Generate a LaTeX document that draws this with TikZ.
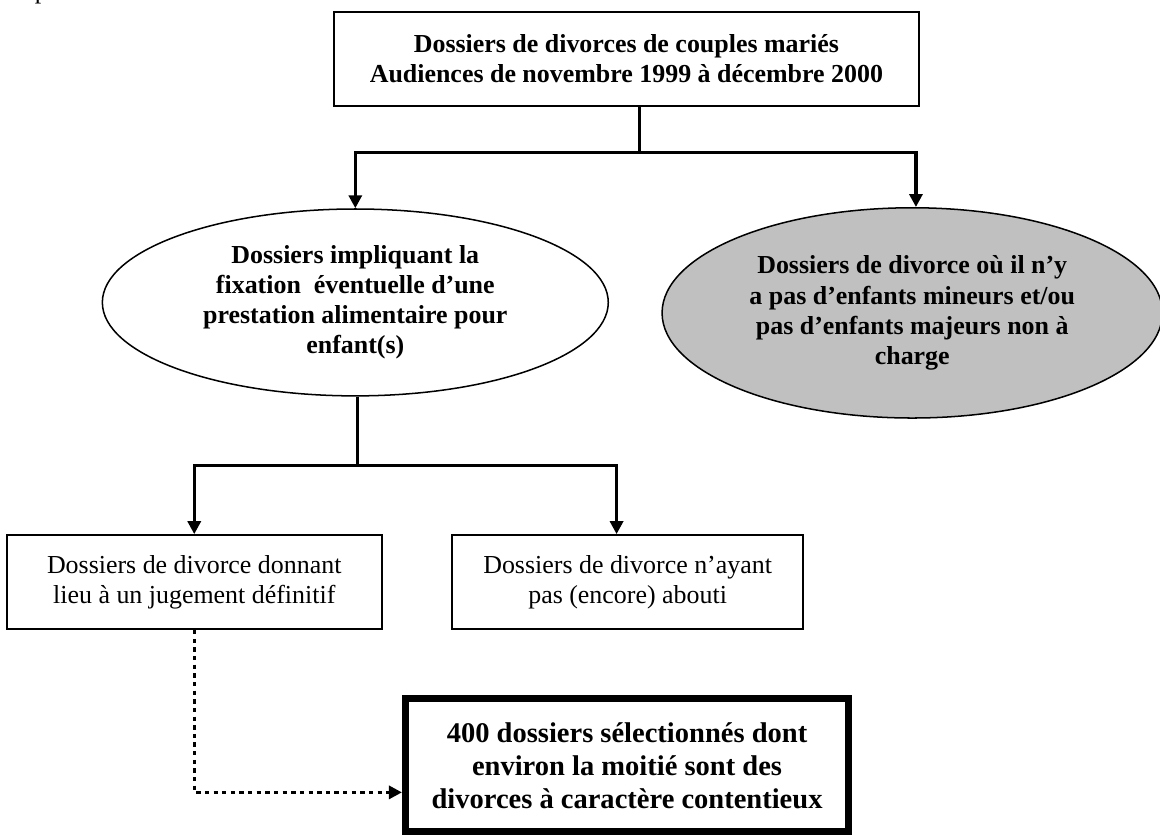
\documentclass[tikz,border=0pt]{standalone}
\usepackage{fontspec}
\setmainfont{Liberation Serif}
\usepackage{xcolor}
\usepackage{tikz}
\usetikzlibrary{shapes.geometric,arrows.meta,positioning,calc}
\definecolor{lightgrey}{RGB}{192,192,192}

\begin{document}
\begin{tikzpicture}[
    box/.style={draw,rectangle,line width=0.9pt,align=center,inner sep=0pt,font=\fontsize{12}{13.9}\selectfont},
    oval/.style={draw,ellipse,line width=0.7pt,align=center,inner sep=0pt,font=\fontsize{12}{13.9}\selectfont\bfseries},
    link/.style={line width=1.5pt,-{Triangle[length=6pt,width=6pt]}},
    dotlink/.style={line width=1.4pt,dash pattern=on 2pt off 2pt,-{Triangle[length=6pt,width=6pt]}}
    ]
    \useasboundingbox (0,0) rectangle (18.87,13.62);

    % Fragment of the line above
    \node[anchor=base west,inner sep=0pt,font=\fontsize{12}{13.9}\selectfont] (frag) at (0.56,13.65) {p};

    % All divorce files
    \node[box,minimum width=9.52cm,minimum height=1.53cm,font=\fontsize{12}{13.9}\selectfont\bfseries] (dossiers) at (10.19,12.66) {Dossiers de divorces de couples mariés\\Audiences de novembre 1999 à décembre 2000};
    \coordinate (split) at (10.40,11.14);
    \draw[line width=1.5pt] (dossiers.south -| split) -- (split);

    % With or without children
    \node[oval,minimum width=8.23cm,minimum height=3.04cm] (enfants) at (5.78,8.70) {Dossiers impliquant la\\fixation\ \ éventuelle d’une\\prestation alimentaire pour\\enfant(s)};
    \node[oval,fill=lightgrey,minimum width=8.14cm,minimum height=3.42cm] (sansenfants) at (14.84,8.53) {Dossiers de divorce où il n’y\\a pas d’enfants mineurs et/ou\\pas d’enfants majeurs non à\\charge};
    \draw[link] (split) -| (enfants.north);
    \draw[link] (split) -| ([xshift=0.06cm]sansenfants.north);

    % Outcome of the files
    \coordinate (split2) at (5.82,6.05);
    \draw[line width=1.5pt] (enfants.south -| split2) -- (split2);
    \node[box,minimum width=6.10cm,minimum height=1.53cm] (jugement) at (3.16,4.15) {Dossiers de divorce donnant\\lieu à un jugement définitif};
    \node[box,minimum width=5.71cm,minimum height=1.53cm] (encours) at (10.21,4.15) {Dossiers de divorce n’ayant\\pas (encore) abouti};
    \draw[link] (split2) -| (jugement.north);
    \draw[link] (split2) -| ([xshift=-0.18cm]encours.north);

    % Selected files
    \node[box,line width=3.2pt,minimum width=7.21cm,minimum height=2.16cm,font=\fontsize{13.2}{15.3}\selectfont\bfseries] (selection) at (10.20,1.17) {400 dossiers sélectionnés dont\\environ la moitié sont des\\divorces à caractère contentieux};
    \draw[dotlink] (jugement.south) |- ([yshift=-0.44cm]selection.west);
\end{tikzpicture}
\end{document}
